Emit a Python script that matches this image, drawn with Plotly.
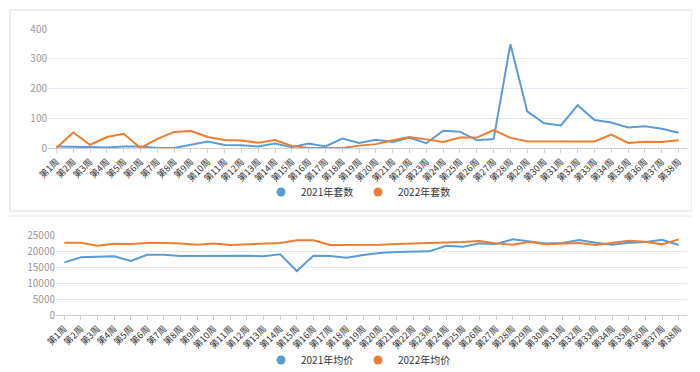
import plotly.graph_objects as go

weeks = [f"第{i}周" for i in range(1, 39)]

count_2021 = [5, 3, 3, 2, 5, 5, 0, 0, 10, 22, 10, 9, 5, 15, 3, 15, 5, 32, 17,
              28, 20, 34, 16, 58, 55, 26, 30, 349, 123, 83, 76, 144, 94, 86, 69, 73, 65, 51]
count_2022 = [0, 52, 11, 37, 48, 0, 31, 54, 57, 37, 27, 25, 18, 27, 7, 0, 0, 0, 8,
              13, 26, 37, 29, 20, 35, 35, 60, 34, 23, 23, 23, 23, 22, 45, 17, 21, 20, 26]

price_2021 = [16600, 18170, 18380, 18490, 17020, 19010, 19010, 18590, 18590, 18590,
              18800, 18700, 18490, 19120, 13870, 18700, 18590, 18070, 18900, 19540,
              19850, 20060, 20060, 21850, 21530, 22580, 22370, 23840, 23110, 22580,
              22690, 23630, 22800, 22160, 22800, 23000, 23740, 22060]
price_2022 = [22800, 22800, 21850, 22480, 22370, 22690, 22690, 22580, 22160, 22580,
              22060, 22270, 22690, 22690, 23530, 23530, 22060, 22060, 22060, 22160,
              22370, 22480, 22580, 22800, 23000, 23320, 22580, 22160, 23000, 22270,
              22480, 22690, 22060, 22690, 23420, 23110, 22270, 23850]

count_ticks = [0, 100, 200, 300, 400]
price_ticks = [0, 5000, 10000, 15000, 20000, 25000]

BLUE = "#5B9BD5"
ORANGE = "#ED7D31"
FONT = "Noto Sans CJK SC, Noto Sans, sans-serif"

fig = go.Figure()
fig.add_trace(go.Scatter(x=weeks, y=count_2021, name="2021年套数", mode="lines",
                         line=dict(color=BLUE, width=2), xaxis="x", yaxis="y", showlegend=False))
fig.add_trace(go.Scatter(x=weeks, y=count_2022, name="2022年套数", mode="lines",
                         line=dict(color=ORANGE, width=2), xaxis="x", yaxis="y", showlegend=False))
fig.add_trace(go.Scatter(x=weeks, y=price_2021, name="2021年均价", mode="lines",
                         line=dict(color=BLUE, width=2), xaxis="x2", yaxis="y2", showlegend=False))
fig.add_trace(go.Scatter(x=weeks, y=price_2022, name="2022年均价", mode="lines",
                         line=dict(color=ORANGE, width=2), xaxis="x2", yaxis="y2", showlegend=False))

# legend-only marker entries (circle symbols, like the original)
for name, color, leg, xa, ya in [("2021年套数", BLUE, "legend", "x", "y"),
                                 ("2022年套数", ORANGE, "legend", "x", "y"),
                                 ("2021年均价", BLUE, "legend2", "x2", "y2"),
                                 ("2022年均价", ORANGE, "legend2", "x2", "y2")]:
    fig.add_trace(go.Scatter(x=[None], y=[None], name=name, mode="markers",
                             marker=dict(color=color, size=9, symbol="circle"),
                             xaxis=xa, yaxis=ya, legend=leg, showlegend=True))

H = 372.0
W = 700.0

xcommon = dict(type="category", showgrid=False, showline=True, linecolor="#d0d0d0",
               ticks="outside", ticklen=4, tickcolor="#d0d0d0", tickangle=-45,
               tickfont=dict(size=9, color="#333", family=FONT), fixedrange=True,
               range=[-0.5, 37.5], automargin=False)
ycommon = dict(showgrid=True, gridcolor="#e3e8f2", gridwidth=1, zeroline=False,
               showline=False, tickfont=dict(size=10, color="#999", family=FONT),
               ticks="", fixedrange=True, automargin=False, tickformat="d")

legend_common = dict(orientation="h", x=0.5, xanchor="center", yanchor="middle",
                     font=dict(size=10, color="#333", family=FONT), itemwidth=30,
                     entrywidth=52, entrywidthmode="pixels",
                     bgcolor="rgba(0,0,0,0)", tracegroupgap=0)

fig.update_layout(
    width=700, height=372,
    margin=dict(l=0, r=0, t=0, b=0),
    paper_bgcolor="white", plot_bgcolor="white",
    font=dict(family=FONT),
    xaxis=dict(domain=[40 / W, 679 / W], anchor="y", **xcommon),
    yaxis=dict(domain=[1 - 140 / H, 1 - 21 / H], anchor="x", range=[0, 400],
               tickvals=count_ticks, **ycommon),
    xaxis2=dict(domain=[48 / W, 679 / W], anchor="y2", **xcommon),
    yaxis2=dict(domain=[1 - 307 / H, 1 - 227.7 / H], anchor="x2", range=[0, 25000],
                tickvals=price_ticks, **ycommon),
    legend=dict(y=1 - 184 / H, **legend_common),
    legend2=dict(y=1 - 352 / H, **legend_common),
    showlegend=True,
)

# card borders
fig.add_shape(type="rect", xref="paper", yref="paper",
              x0=2 / W, x1=684 / W, y0=1 - 203 / H, y1=1 - 2 / H,
              line=dict(color="#dcdcdc", width=1), fillcolor="rgba(0,0,0,0)", layer="below")
fig.add_shape(type="line", xref="paper", yref="paper",
              x0=0, x1=1, y0=1 - 208 / H, y1=1 - 208 / H,
              line=dict(color="#e2e2e2", width=1))
fig.add_shape(type="line", xref="paper", yref="paper",
              x0=0, x1=1, y0=1 - 369 / H, y1=1 - 369 / H,
              line=dict(color="#e2e2e2", width=1))

fig.write_html("out.html")
